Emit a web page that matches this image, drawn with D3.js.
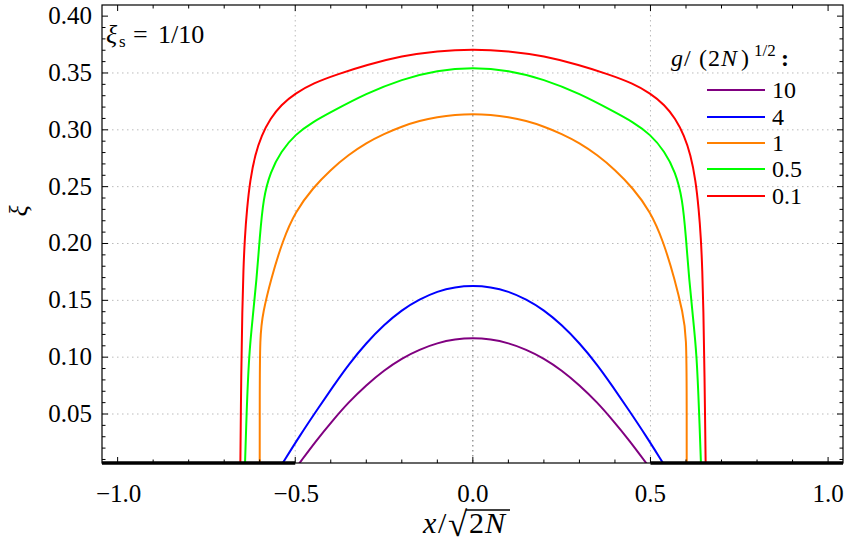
<!DOCTYPE html>
<html><head><meta charset="utf-8">
<script src="https://cdn.jsdelivr.net/npm/d3@7"></script>
<style>body{margin:0;background:#fff} text{font-family:"Liberation Serif","Times New Roman",serif;fill:#000}</style>
</head><body><svg id="c" width="851" height="546"></svg>
<script>
// ---- data ----
const xMajorTicks = [-1.0, -0.5, 0.0, 0.5, 1.0];
const xTickLabels = ["\u22121.0", "\u22120.5", "0.0", "0.5", "1.0"];
const yMajorTicks = [0.05, 0.10, 0.15, 0.20, 0.25, 0.30, 0.35, 0.40];
const yTickLabels = ["0.05", "0.10", "0.15", "0.20", "0.25", "0.30", "0.35", "0.40"];
const xGrid = [-0.5, 0.0, 0.5];
const yGrid = [0.05, 0.10, 0.15, 0.20, 0.25, 0.30, 0.35];
const seriesNames = ["10", "4", "1", "0.5", "0.1"];
const seriesColors = ["#800080", "#0000ff", "#ff8000", "#00ff00", "#ff0000"];

// g/(2N)^(1/2) = 10
const purpleX = [-0.490, -0.44, -0.394, -0.35, -0.30, -0.25, -0.20, -0.15, -0.10, -0.05, 0.0, 0.05, 0.10, 0.15, 0.20, 0.25, 0.30, 0.35, 0.394, 0.44, 0.490];
const purpleY = [0.006, 0.027, 0.0445, 0.0603, 0.0755, 0.0885, 0.099, 0.1068, 0.1125, 0.1158, 0.117, 0.1158, 0.1125, 0.1068, 0.099, 0.0885, 0.0755, 0.0603, 0.0445, 0.027, 0.006];
// = 4
const blueX = [-0.545, -0.53, -0.488, -0.44, -0.393, -0.35, -0.30, -0.25, -0.20, -0.15, -0.10, -0.05, 0.0, 0.05, 0.10, 0.15, 0.20, 0.25, 0.30, 0.35, 0.393, 0.44, 0.488, 0.53, 0.545];
const blueY = [0.002, 0.0095, 0.0305, 0.053, 0.0745, 0.0935, 0.1125, 0.1285, 0.1415, 0.151, 0.158, 0.1618, 0.163, 0.1618, 0.158, 0.151, 0.1415, 0.1285, 0.1125, 0.0935, 0.0745, 0.053, 0.0305, 0.0095, 0.002];
// = 1
const orangeX = [-0.600, -0.600, -0.5995, -0.591, -0.569, -0.535, -0.50, -0.45, -0.40, -0.35, -0.30, -0.25, -0.20, -0.15, -0.10, -0.05, 0.0, 0.05, 0.10, 0.15, 0.20, 0.25, 0.30, 0.35, 0.40, 0.45, 0.50, 0.535, 0.569, 0.591, 0.6015, 0.602, 0.602];
const orangeY = [-0.01, 0.06, 0.120, 0.139, 0.168, 0.203, 0.228, 0.249, 0.265, 0.278, 0.2885, 0.2965, 0.303, 0.308, 0.3113, 0.3133, 0.314, 0.3133, 0.3113, 0.308, 0.303, 0.2965, 0.2885, 0.278, 0.265, 0.249, 0.228, 0.203, 0.168, 0.139, 0.120, 0.06, -0.01];
// = 0.5
const greenX = [-0.643, -0.637, -0.630, -0.620, -0.609, -0.600, -0.59, -0.57, -0.54, -0.50, -0.45, -0.40, -0.30, -0.20, -0.10, 0.0, 0.10, 0.20, 0.30, 0.40, 0.45, 0.50, 0.54, 0.57, 0.59, 0.600, 0.609, 0.620, 0.630, 0.637, 0.644];
const greenY = [-0.01, 0.052, 0.103, 0.134, 0.168, 0.205, 0.240, 0.263, 0.281, 0.296, 0.307, 0.3155, 0.332, 0.3445, 0.3525, 0.355, 0.3525, 0.3445, 0.332, 0.3155, 0.307, 0.296, 0.281, 0.263, 0.240, 0.205, 0.168, 0.134, 0.103, 0.052, -0.01];
// = 0.1
const redX = [-0.655, -0.652, -0.649, -0.646, -0.642, -0.636, -0.627, -0.613, -0.595, -0.57, -0.54, -0.50, -0.45, -0.38, -0.30, -0.20, -0.10, 0.0, 0.10, 0.20, 0.30, 0.38, 0.45, 0.50, 0.54, 0.57, 0.595, 0.613, 0.627, 0.636, 0.642, 0.646, 0.649, 0.652, 0.656];
const redY = [-0.01, 0.09, 0.142, 0.177, 0.205, 0.230, 0.256, 0.278, 0.295, 0.310, 0.322, 0.332, 0.341, 0.349, 0.357, 0.365, 0.3695, 0.371, 0.3695, 0.365, 0.357, 0.349, 0.341, 0.332, 0.322, 0.310, 0.295, 0.278, 0.256, 0.230, 0.205, 0.177, 0.142, 0.09, -0.01];
const baselineSegments = [[-1.1, -0.5], [0.5, 1.1]]; // ξ = 0 branch (drawn on bottom edge)

// ---- layout ----
const svg = d3.select("#c");
const L = 102, R = 843, T = 5, B = 463;
const x = d3.scaleLinear().domain([-1.044, 1.042]).range([L, R]);
const y = d3.scaleLinear().domain([0.0069, 0.4098]).range([B, T]);

svg.append("clipPath").attr("id", "clip").append("rect")
  .attr("x", L).attr("y", T).attr("width", R - L).attr("height", B - T);

// grid
const g = svg.append("g");
xGrid.forEach(v => g.append("line").attr("x1", x(v)).attr("x2", x(v)).attr("y1", T).attr("y2", B)
  .attr("stroke", v === 0 ? "#666" : "#bbb").attr("stroke-width", 1).attr("stroke-dasharray", "1.5,3.5"));
yGrid.forEach(v => g.append("line").attr("y1", y(v)).attr("y2", y(v)).attr("x1", L).attr("x2", R)
  .attr("stroke", "#bbb").attr("stroke-width", 1).attr("stroke-dasharray", "1.5,3.5"));

// curves
const series = [
  [purpleX, purpleY], [blueX, blueY], [orangeX, orangeY], [greenX, greenY], [redX, redY]
];
const line = d3.line().x(d => x(d[0])).y(d => y(d[1])).curve(d3.curveBasis);
const cg = svg.append("g").attr("clip-path", "url(#clip)");
series.forEach((s, i) => {
  const pts = s[0].map((v, j) => [v, s[1][j]]);
  cg.append("path").attr("d", line(pts)).attr("fill", "none")
    .attr("stroke", seriesColors[i]).attr("stroke-width", 2).attr("stroke-linejoin", "round");
});

// frame
svg.append("rect").attr("x", L).attr("y", T).attr("width", R - L).attr("height", B - T)
  .attr("fill", "none").attr("stroke", "#000").attr("stroke-width", 1.2);

// baseline thick segments
baselineSegments.forEach(sg => {
  svg.append("line").attr("x1", Math.max(L, x(sg[0]))).attr("x2", Math.min(R, x(sg[1])))
    .attr("y1", y(y.domain()[0])).attr("y2", y(y.domain()[0]))
    .attr("stroke", "#000").attr("stroke-width", 3.5);
});

// ticks
const tk = svg.append("g").attr("stroke", "#000").attr("stroke-width", 1);
const xMinor = d3.range(-10, 11).map(i => i / 10);
const yMinor = d3.range(1, 41).map(i => i / 100);
const isMaj = (v, arr) => arr.some(a => Math.abs(a - v) < 1e-9);
xMinor.forEach(v => {
  const len = isMaj(v, xMajorTicks) ? 6 : 3.5;
  tk.append("line").attr("x1", x(v)).attr("x2", x(v)).attr("y1", B).attr("y2", B - len);
  tk.append("line").attr("x1", x(v)).attr("x2", x(v)).attr("y1", T).attr("y2", T + len);
});
yMinor.forEach(v => {
  const len = isMaj(v, yMajorTicks) ? 6 : 3.5;
  tk.append("line").attr("y1", y(v)).attr("y2", y(v)).attr("x1", L).attr("x2", L + len);
  tk.append("line").attr("y1", y(v)).attr("y2", y(v)).attr("x1", R).attr("x2", R - len);
});

// tick labels
xMajorTicks.forEach((v, i) => svg.append("text").attr("x", x(v) + (v < 0 ? 1 : 0)).attr("y", 502)
  .attr("text-anchor", "middle").attr("font-size", 25).text(xTickLabels[i]));
yMajorTicks.forEach((v, i) => svg.append("text").attr("x", 92).attr("y", y(v) + 8)
  .attr("text-anchor", "end").attr("font-size", 25).text(yTickLabels[i]));

// x axis title: x/√(2N)
const xt = svg.append("text").attr("y", 533).attr("font-size", 30);
xt.append("tspan").attr("x", 423).attr("font-style", "italic").text("x");
xt.append("tspan").attr("x", 438).text("/");
xt.append("tspan").attr("x", 448).attr("font-size", 35).attr("dy", 3).text("\u221A");
xt.append("tspan").attr("x", 469).attr("dy", -3).text("2");
xt.append("tspan").attr("x", 485).attr("font-style", "italic").text("N");
svg.append("line").attr("x1", 466).attr("x2", 510).attr("y1", 510).attr("y2", 510)
  .attr("stroke", "#000").attr("stroke-width", 1.4);
// y axis title
svg.append("text").attr("transform", "translate(27,211) rotate(-90)").attr("text-anchor", "middle")
  .attr("font-size", 26).attr("font-style", "italic").text("\u03BE");

// annotation ξ_s = 1/10
const an = svg.append("text").attr("y", 43).attr("font-size", 26);
an.append("tspan").attr("x", 106).attr("font-style", "italic").text("\u03BE");
an.append("tspan").attr("x", 119).attr("dy", 4).attr("font-size", 17).text("s");
an.append("tspan").attr("x", 133).attr("dy", -4).text("=");
an.append("tspan").attr("x", 158).text("1/10");

// legend
const lt = svg.append("text").attr("y", 66).attr("font-size", 24);
lt.append("tspan").attr("x", 671).attr("font-style", "italic").text("g");
lt.append("tspan").attr("x", 684).text("/");
lt.append("tspan").attr("x", 699).text("(");
lt.append("tspan").attr("x", 708).text("2");
lt.append("tspan").attr("x", 721).attr("font-style", "italic").text("N");
lt.append("tspan").attr("x", 741).text(")");
lt.append("tspan").attr("x", 754).attr("font-size", 17).attr("dy", -10).text("1/2");
lt.append("tspan").attr("x", 781).attr("dy", 10).attr("font-weight", "bold").text(":");
const legY = [90, 117, 143, 169, 196];
seriesNames.forEach((nm, i) => {
  svg.append("line").attr("x1", 707).attr("x2", 765).attr("y1", legY[i]).attr("y2", legY[i])
    .attr("stroke", seriesColors[i]).attr("stroke-width", 2);
  svg.append("text").attr("x", 772).attr("y", legY[i] + 8).attr("font-size", 24).text(nm);
});
</script></body></html>
